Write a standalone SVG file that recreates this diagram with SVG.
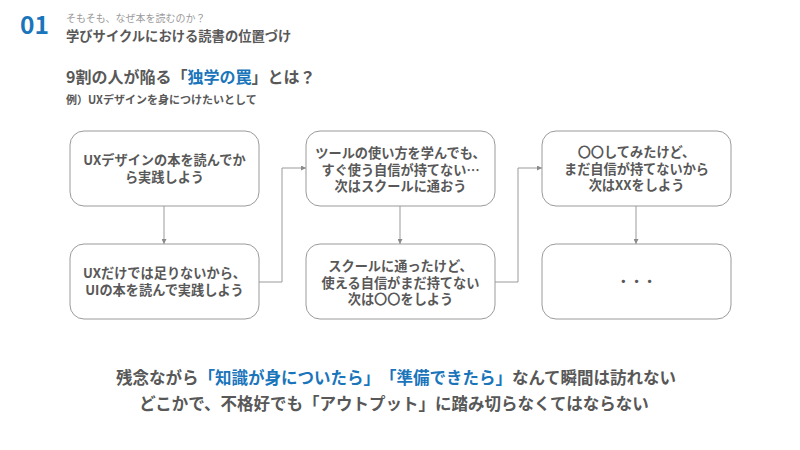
<svg xmlns="http://www.w3.org/2000/svg" width="800" height="450" viewBox="0 0 800 450">
<defs>
<style>
text{font-family:"Noto Sans CJK JP","Noto Sans",sans-serif;text-spacing-trim:space-all;}
.box{fill:#fff;stroke:#9a9a9a;stroke-width:1;}
.bt{font-size:13.2px;font-weight:bold;fill:#585858;text-anchor:middle;}
.con{fill:none;stroke:#9a9a9a;stroke-width:1;}
.blue{fill:#1a75bb;}
.bot{font-size:16.5px;font-weight:bold;fill:#585858;text-anchor:middle;}
</style>
<marker id="arr" viewBox="0 0 10 10" refX="10" refY="5" markerWidth="5" markerHeight="5" orient="auto" markerUnits="userSpaceOnUse">
<path d="M0,0 L10,5 L0,10 z" fill="#8a8a8a"/>
</marker>
</defs>
<rect width="800" height="450" fill="#fff"/>
<g id="header">
<text x="20" y="34" font-size="24" font-weight="bold" fill="#1a75bb" font-family="'Noto Sans',sans-serif" textLength="29" lengthAdjust="spacingAndGlyphs">01</text>
<text x="66" y="22" font-size="10" fill="#9a9a9a">そもそも、なぜ本を読むのか？</text>
<text x="66" y="41" font-size="13.3" font-weight="bold" fill="#585858">学びサイクルにおける読書の位置づけ</text>
<text x="66" y="83" font-size="16" font-weight="bold" fill="#585858">9割の人が陥る「<tspan class="blue">独学の罠</tspan>」とは？</text>
<text x="66" y="104" font-size="11" font-weight="bold" fill="#585858">例）UXデザインを身につけたいとして</text>
</g>
<g id="connectors">
<line class="con" x1="164" y1="206" x2="164" y2="244" marker-end="url(#arr)"/>
<polyline class="con" points="258,282 282,282 282,168 306,168" marker-end="url(#arr)"/>
<line class="con" x1="400" y1="206" x2="400" y2="244" marker-end="url(#arr)"/>
<polyline class="con" points="494,282 518,282 518,168 542,168" marker-end="url(#arr)"/>
<line class="con" x1="636" y1="206" x2="636" y2="244" marker-end="url(#arr)"/>
</g>
<g id="n1">
<rect class="box" x="70" y="131" width="189" height="75" rx="14"/>
<text class="bt" x="164.5" y="165">UXデザインの本を読んでか</text>
<text class="bt" x="164.5" y="182">ら実践しよう</text>
</g>
<g id="n2">
<rect class="box" x="70" y="244" width="189" height="75" rx="14"/>
<text class="bt" x="164.5" y="278">UXだけでは足りないから、</text>
<text class="bt" x="164.5" y="295">UIの本を読んで実践しよう</text>
</g>
<g id="n3">
<rect class="box" x="306" y="131" width="189" height="75" rx="14"/>
<text class="bt" x="400.5" y="158">ツールの使い方を学んでも、</text>
<text class="bt" x="400.5" y="175">すぐ使う自信が持てない…</text>
<text class="bt" x="400.5" y="191">次はスクールに通おう</text>
</g>
<g id="n4">
<rect class="box" x="306" y="244" width="189" height="75" rx="14"/>
<text class="bt" x="400.5" y="271">スクールに通ったけど、</text>
<text class="bt" x="400.5" y="288">使える自信がまだ持てない</text>
<text class="bt" x="400.5" y="304">次は〇〇をしよう</text>
</g>
<g id="n5">
<rect class="box" x="542" y="131" width="189" height="75" rx="14"/>
<text class="bt" x="636.5" y="157">〇〇してみたけど、</text>
<text class="bt" x="636.5" y="174">まだ自信が持てないから</text>
<text class="bt" x="636.5" y="190">次はXXをしよう</text>
</g>
<g id="n6">
<rect class="box" x="542" y="244" width="189" height="75" rx="14"/>
<text class="bt" x="636.5" y="286" font-size="14">・・・</text>
</g>
<g id="footer">
<text class="bot" x="396" y="384">残念ながら<tspan class="blue">「知識が身についたら」「準備できたら」</tspan>なんて瞬間は訪れない</text>
<text class="bot" x="394" y="410">どこかで、不格好でも「アウトプット」に踏み切らなくてはならない</text>
</g>
</svg>
